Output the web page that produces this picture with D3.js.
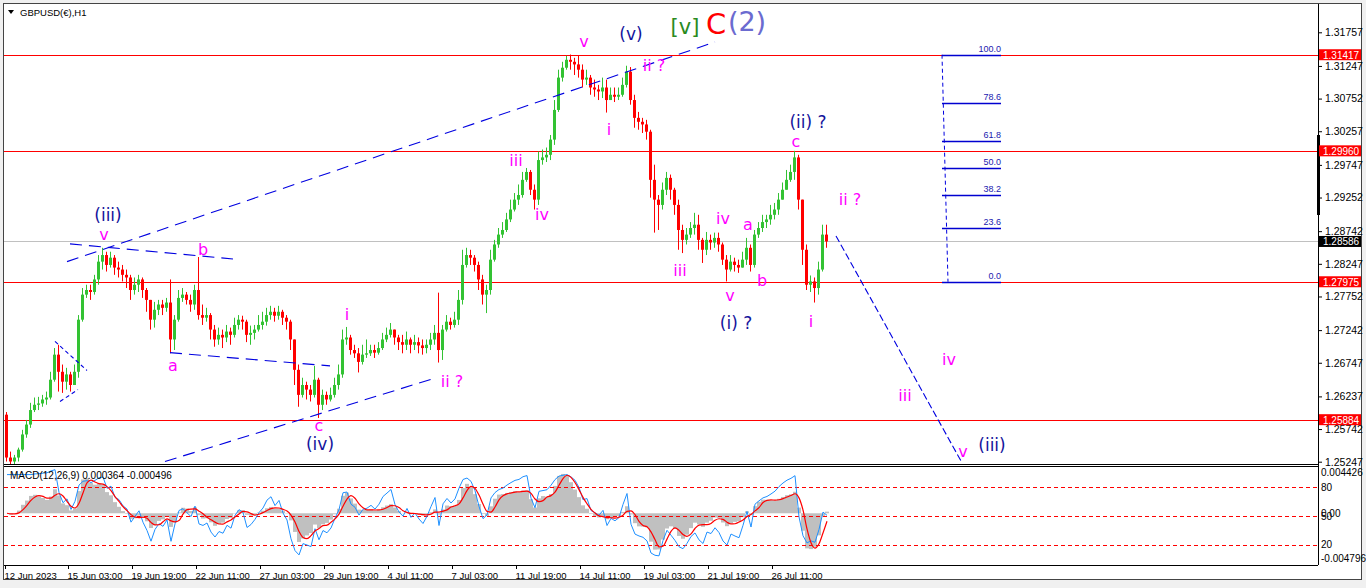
<!DOCTYPE html>
<html>
<head>
<meta charset="utf-8">
<script src="https://cdn.jsdelivr.net/npm/d3@7"></script>
<style>
html, body { margin: 0; padding: 0; background: #f0f0f0; }
svg { display: block; font-family: "Liberation Sans", Arial, sans-serif; }
</style>
</head>
<body>
<svg id="chart" width="1366" height="588"></svg>
<script>
// ---- data: GBPUSD H1, resampled to 4-hour candles (open = previous close) ----
var startHour = 12;        // trading hours counted from 12 Jun 2023 00:00
var barHours = 4;
var firstOpen = 1.2596;

var highs = [
	1.2600, 1.2540, 1.2535, 1.2546, 1.2573, 1.2588, 1.2614, 1.2622, 1.2623, 1.2626,
	1.2631, 1.2661, 1.2697, 1.2702, 1.2672, 1.2667, 1.2661, 1.2672, 1.2747, 1.2788,
	1.2793, 1.2793, 1.2808, 1.2838, 1.2849, 1.2843, 1.2843, 1.2838, 1.2828, 1.2823,
	1.2816, 1.2808, 1.2804, 1.2808, 1.2804, 1.2788, 1.2770, 1.2767, 1.2770, 1.2770,
	1.2773, 1.2801, 1.2747, 1.2785, 1.2788, 1.2782, 1.2778, 1.2793, 1.2835, 1.2763,
	1.2758, 1.2750, 1.2732, 1.2728, 1.2725, 1.2732, 1.2728, 1.2743, 1.2747, 1.2746,
	1.2740, 1.2731, 1.2732, 1.2747, 1.2752, 1.2758, 1.2761, 1.2758, 1.2761, 1.2755,
	1.2747, 1.2740, 1.2710, 1.2672, 1.2652, 1.2646, 1.2641, 1.2670, 1.2652, 1.2634,
	1.2631, 1.2637, 1.2652, 1.2672, 1.2725, 1.2729, 1.2717, 1.2702, 1.2697, 1.2702,
	1.2710, 1.2702, 1.2702, 1.2706, 1.2720, 1.2728, 1.2735, 1.2725, 1.2717, 1.2717,
	1.2722, 1.2713, 1.2717, 1.2713, 1.2710, 1.2710, 1.2720, 1.2732, 1.2781, 1.2732,
	1.2747, 1.2743, 1.2752, 1.2785, 1.2846, 1.2849, 1.2846, 1.2838, 1.2828, 1.2808,
	1.2793, 1.2846, 1.2861, 1.2879, 1.2888, 1.2902, 1.2922, 1.2932, 1.2945, 1.2964,
	1.2970, 1.2967, 1.2945, 1.2995, 1.2998, 1.3001, 1.3020, 1.3073, 1.3119, 1.3131,
	1.3140, 1.3142, 1.3137, 1.3141, 1.3127, 1.3119, 1.3111, 1.3104, 1.3096, 1.3107,
	1.3104, 1.3092, 1.3092, 1.3092, 1.3107, 1.3125, 1.3123, 1.3081, 1.3055, 1.3046,
	1.3043, 1.3028, 1.2975, 1.2929, 1.2948, 1.2964, 1.2960, 1.2940, 1.2922, 1.2884,
	1.2879, 1.2888, 1.2902, 1.2899, 1.2864, 1.2873, 1.2869, 1.2872, 1.2872, 1.2857,
	1.2838, 1.2838, 1.2834, 1.2831, 1.2843, 1.2864, 1.2854, 1.2876, 1.2888, 1.2899,
	1.2899, 1.2914, 1.2917, 1.2932, 1.2948, 1.2967, 1.2975, 1.2996, 1.2990, 1.2922,
	1.2854, 1.2807, 1.2804, 1.2828, 1.2884, 1.2884
];

var lows = [
	1.2525, 1.2515, 1.2515, 1.2525, 1.2540, 1.2561, 1.2576, 1.2600, 1.2603, 1.2608,
	1.2611, 1.2619, 1.2646, 1.2631, 1.2629, 1.2634, 1.2631, 1.2641, 1.2652, 1.2737,
	1.2773, 1.2770, 1.2778, 1.2793, 1.2816, 1.2813, 1.2819, 1.2808, 1.2804, 1.2798,
	1.2788, 1.2770, 1.2778, 1.2782, 1.2773, 1.2752, 1.2725, 1.2728, 1.2747, 1.2747,
	1.2752, 1.2689, 1.2694, 1.2737, 1.2767, 1.2763, 1.2752, 1.2755, 1.2740, 1.2732,
	1.2737, 1.2710, 1.2699, 1.2702, 1.2697, 1.2706, 1.2702, 1.2713, 1.2725, 1.2725,
	1.2706, 1.2702, 1.2710, 1.2722, 1.2725, 1.2731, 1.2740, 1.2737, 1.2740, 1.2732,
	1.2725, 1.2694, 1.2641, 1.2608, 1.2622, 1.2619, 1.2616, 1.2622, 1.2591, 1.2603,
	1.2611, 1.2616, 1.2622, 1.2634, 1.2652, 1.2702, 1.2687, 1.2682, 1.2660, 1.2672,
	1.2682, 1.2685, 1.2682, 1.2687, 1.2694, 1.2706, 1.2713, 1.2702, 1.2694, 1.2689,
	1.2694, 1.2689, 1.2694, 1.2689, 1.2687, 1.2689, 1.2694, 1.2702, 1.2675, 1.2679,
	1.2722, 1.2725, 1.2728, 1.2732, 1.2763, 1.2819, 1.2823, 1.2813, 1.2785, 1.2763,
	1.2750, 1.2778, 1.2828, 1.2849, 1.2864, 1.2873, 1.2888, 1.2904, 1.2914, 1.2925,
	1.2949, 1.2929, 1.2907, 1.2914, 1.2975, 1.2979, 1.2982, 1.3005, 1.3055, 1.3101,
	1.3119, 1.3119, 1.3111, 1.3107, 1.3092, 1.3096, 1.3081, 1.3078, 1.3073, 1.3076,
	1.3054, 1.3073, 1.3070, 1.3073, 1.3078, 1.3092, 1.3066, 1.3031, 1.3028, 1.3023,
	1.3013, 1.2925, 1.2872, 1.2876, 1.2907, 1.2929, 1.2922, 1.2899, 1.2846, 1.2841,
	1.2854, 1.2864, 1.2869, 1.2846, 1.2826, 1.2838, 1.2846, 1.2849, 1.2843, 1.2823,
	1.2798, 1.2813, 1.2813, 1.2811, 1.2819, 1.2823, 1.2813, 1.2819, 1.2864, 1.2873,
	1.2879, 1.2884, 1.2892, 1.2899, 1.2922, 1.2937, 1.2949, 1.2952, 1.2907, 1.2823,
	1.2785, 1.2782, 1.2766, 1.2778, 1.2813, 1.2849
];

var closes = [
	1.2531, 1.2525, 1.2531, 1.2543, 1.2566, 1.2581, 1.2603, 1.2611, 1.2613, 1.2619,
	1.2622, 1.2649, 1.2687, 1.2661, 1.2646, 1.2657, 1.2641, 1.2661, 1.2740, 1.2778,
	1.2785, 1.2782, 1.2801, 1.2828, 1.2838, 1.2823, 1.2834, 1.2819, 1.2816, 1.2808,
	1.2804, 1.2785, 1.2793, 1.2801, 1.2785, 1.2770, 1.2740, 1.2755, 1.2763, 1.2758,
	1.2766, 1.2710, 1.2740, 1.2773, 1.2778, 1.2770, 1.2763, 1.2785, 1.2747, 1.2743,
	1.2747, 1.2725, 1.2710, 1.2717, 1.2713, 1.2722, 1.2717, 1.2732, 1.2740, 1.2737,
	1.2717, 1.2720, 1.2725, 1.2732, 1.2737, 1.2747, 1.2752, 1.2746, 1.2752, 1.2743,
	1.2737, 1.2710, 1.2664, 1.2626, 1.2641, 1.2634, 1.2626, 1.2649, 1.2611, 1.2626,
	1.2619, 1.2626, 1.2641, 1.2657, 1.2710, 1.2713, 1.2694, 1.2689, 1.2676, 1.2687,
	1.2689, 1.2694, 1.2690, 1.2697, 1.2710, 1.2717, 1.2725, 1.2713, 1.2706, 1.2702,
	1.2710, 1.2702, 1.2706, 1.2701, 1.2697, 1.2702, 1.2710, 1.2720, 1.2694, 1.2725,
	1.2737, 1.2732, 1.2740, 1.2770, 1.2823, 1.2838, 1.2834, 1.2823, 1.2801, 1.2778,
	1.2785, 1.2831, 1.2854, 1.2869, 1.2876, 1.2892, 1.2907, 1.2922, 1.2929, 1.2952,
	1.2964, 1.2937, 1.2922, 1.2982, 1.2986, 1.2990, 1.3013, 1.3058, 1.3107, 1.3122,
	1.3134, 1.3131, 1.3127, 1.3119, 1.3104, 1.3107, 1.3092, 1.3089, 1.3086, 1.3092,
	1.3073, 1.3081, 1.3078, 1.3081, 1.3096, 1.3116, 1.3073, 1.3046, 1.3040, 1.3036,
	1.3025, 1.2952, 1.2922, 1.2914, 1.2937, 1.2955, 1.2937, 1.2914, 1.2876, 1.2861,
	1.2869, 1.2879, 1.2884, 1.2861, 1.2846, 1.2861, 1.2857, 1.2864, 1.2854, 1.2831,
	1.2816, 1.2828, 1.2823, 1.2819, 1.2831, 1.2849, 1.2823, 1.2869, 1.2879, 1.2888,
	1.2892, 1.2899, 1.2907, 1.2922, 1.2937, 1.2952, 1.2964, 1.2986, 1.2922, 1.2846,
	1.2793, 1.2798, 1.2788, 1.2816, 1.2869, 1.28586
];

var priceTicks = [1.31757, 1.31247, 1.30752, 1.30257, 1.29747, 1.29252, 1.28742,
	1.28247, 1.27752, 1.27242, 1.26747, 1.26237, 1.25742, 1.25247];
var levelPrices = [1.31417, 1.29960, 1.27975, 1.25884];
var lastPrice = 1.28586;
var timeTicks = [12, 75, 139, 203, 267, 331, 395, 459, 523, 587, 651, 715, 779];
var timeLabels = ["12 Jun 2023", "15 Jun 03:00", "19 Jun 19:00", "22 Jun 11:00", "27 Jun 03:00",
	"29 Jun 19:00", "4 Jul 11:00", "7 Jul 03:00", "11 Jul 19:00", "14 Jul 11:00",
	"19 Jul 03:00", "21 Jul 19:00", "26 Jul 11:00"];

// fibonacci retracement between the top and the (i) low
var fibLevels = [0, 23.6, 38.2, 50.0, 61.8, 78.6, 100.0];
var fibHigh = { t: 949, p: 1.31417 };
var fibLow = { t: 955, p: 1.27975 };
var fibEnd = 1008;

// trend lines [t1, p1, t2, p2, kind]
var trendLines = [
	[74, 1.2828, 722, 1.3161, "long"],
	[172, 1.2525, 439, 1.2650, "long"],
	[77, 1.2855, 240, 1.2832, "long"],
	[177, 1.2690, 337, 1.2670, "long"],
	[62, 1.2707, 94, 1.2663, "short"],
	[67, 1.2616, 85, 1.2634, "short"],
	[843, 1.2867, 969, 1.2523, "proj"]
];

// wave labels [t, price, text, style]
var waveLabels = [
	[115, 1.2898, "(iii)", "blue"], [111, 1.2869, "v", "pink"], [210, 1.2846, "b", "pink"],
	[180, 1.2670, "a", "pink"], [326, 1.2579, "c", "pink"], [327, 1.2552, "(iv)", "blue"],
	[354, 1.2748, "i", "pink"], [459, 1.2647, "ii ?", "pink"], [523, 1.2982, "iii", "pink"],
	[549, 1.2899, "iv", "pink"], [591, 1.3161, "v", "pink"], [638, 1.3173, "(v)", "blue"],
	[616, 1.3029, "i", "pink"], [661, 1.3125, "ii ?", "pink"], [692, 1.3184, "[v]", "green"],
	[723, 1.3189, "C", "red"], [754, 1.3192, "(2)", "slate"], [815, 1.3039, "(ii) ?", "blue"],
	[803, 1.3010, "c", "pink"], [730, 1.2893, "iv", "pink"], [755, 1.2885, "a", "pink"],
	[687, 1.2814, "iii", "pink"], [769, 1.2799, "b", "pink"], [737, 1.2776, "v", "pink"],
	[743, 1.2735, "(i) ?", "blue"], [818, 1.2737, "i", "pink"], [857, 1.2922, "ii ?", "pink"],
	[956, 1.2679, "iv", "pink"], [912, 1.2625, "iii", "pink"], [970, 1.2540, "v", "pink"],
	[999, 1.2550, "(iii)", "blue"]
];

// indicator settings: MACD(12,26,9) on H1 expressed in 4-hour bars
var macdFast = 3, macdSlow = 6.5, macdSignal = 3, oscPeriod = 6;
var macdTicks = [0.004426, 0, -0.004796];
var oscLevels = [80, 50, 20];

// ---- layout ----
var plotL = 4, plotR = 1318, mainT = 4, mainB = 464, subT = 467, subB = 565;
var labelStyle = {
	pink: { fill: "#ff00ff", size: 16 },
	blue: { fill: "#14149c", size: 17 },
	green: { fill: "#2a8a1e", size: 21 },
	red: { fill: "#ff0000", size: 29 },
	slate: { fill: "#6b6bd0", size: 27 }
};

var svg = d3.select("#chart");
var x = d3.scaleLinear().domain([12, 1325]).range([5, 1318]);
var y = d3.scaleLinear().domain([1.25247, 1.31757]).range([461.7, 32.3]);
var yM = d3.scaleLinear().domain([-0.004796, 0.004426]).range([558, 472]);
var yO = d3.scaleLinear().domain([0, 100]).range([564.3, 467.7]);

svg.append("rect").attr("x", 3.5).attr("y", 3.5).attr("width", 1358).attr("height", 576)
	.attr("fill", "#fff").attr("stroke", "#444");

var defs = svg.append("defs");
defs.append("clipPath").attr("id", "clipMain").append("rect")
	.attr("x", plotL).attr("y", mainT).attr("width", plotR - plotL).attr("height", mainB - mainT);
defs.append("clipPath").attr("id", "clipSub").append("rect")
	.attr("x", plotL).attr("y", subT).attr("width", plotR - plotL).attr("height", subB - subT);

var main = svg.append("g").attr("clip-path", "url(#clipMain)");
var sub = svg.append("g").attr("clip-path", "url(#clipSub)");

// horizontal levels
main.append("line").attr("x1", plotL).attr("x2", plotR)
	.attr("y1", Math.round(y(lastPrice)) + 0.5).attr("y2", Math.round(y(lastPrice)) + 0.5)
	.attr("stroke", "#c0c0c0");
main.selectAll(".lvl").data(levelPrices).enter().append("line")
	.attr("x1", plotL).attr("x2", plotR)
	.attr("y1", d => Math.round(y(d)) + 0.5).attr("y2", d => Math.round(y(d)) + 0.5)
	.attr("stroke", "#ff0000").attr("stroke-width", 1.2);

// candles
var candles = closes.map(function (c, i) {
	var o = i ? closes[i - 1] : firstOpen;
	return { t: startHour + i * barHours, o: o, c: c,
		h: Math.max(highs[i], o, c), l: Math.min(lows[i], o, c) };
});
var cg = main.append("g");
candles.forEach(function (d) {
	var col = d.c >= d.o ? "#33c233" : "#ff0000";
	var cx = Math.round(x(d.t)) + 1.5;
	cg.append("line").attr("x1", cx).attr("x2", cx).attr("y1", y(d.h)).attr("y2", y(d.l))
		.attr("stroke", col).attr("stroke-width", 1);
	var top = y(Math.max(d.o, d.c)), bot = y(Math.min(d.o, d.c));
	cg.append("rect").attr("x", Math.round(x(d.t))).attr("width", 3)
		.attr("y", top).attr("height", Math.max(1, bot - top)).attr("fill", col);
});

// trend lines
var dashes = { long: "12,7", short: "4,3", proj: "7,3" };
main.selectAll(".tl").data(trendLines).enter().append("line")
	.attr("x1", d => x(d[0])).attr("y1", d => y(d[1]))
	.attr("x2", d => x(d[2])).attr("y2", d => y(d[3]))
	.attr("stroke", "#0000e0").attr("stroke-width", 1.1)
	.attr("stroke-dasharray", d => dashes[d[4]]);

// fibonacci
main.append("line").attr("x1", x(fibHigh.t)).attr("y1", y(fibHigh.p))
	.attr("x2", x(fibLow.t)).attr("y2", y(fibLow.p))
	.attr("stroke", "#0000e0").attr("stroke-dasharray", "4,3");
var fibG = main.selectAll(".fib").data(fibLevels).enter().append("g");
fibG.append("line")
	.attr("x1", x(fibHigh.t)).attr("x2", x(fibEnd))
	.attr("y1", d => Math.round(y(fibLow.p + (fibHigh.p - fibLow.p) * d / 100)) + 0.5)
	.attr("y2", d => Math.round(y(fibLow.p + (fibHigh.p - fibLow.p) * d / 100)) + 0.5)
	.attr("stroke", "#0000d0").attr("stroke-width", 1.3);
fibG.append("text")
	.attr("x", x(fibEnd)).attr("y", d => y(fibLow.p + (fibHigh.p - fibLow.p) * d / 100) - 3)
	.attr("text-anchor", "end").attr("font-size", 9).attr("fill", "#1a1ab0")
	.text(d => d.toFixed(1));

// wave labels
main.selectAll(".wl").data(waveLabels).enter().append("text")
	.attr("x", d => x(d[0])).attr("y", d => y(d[1]))
	.attr("text-anchor", "middle").attr("dominant-baseline", "central")
	.attr("font-family", "'DejaVu Sans', sans-serif")
	.attr("font-size", d => labelStyle[d[3]].size)
	.attr("fill", d => labelStyle[d[3]].fill)
	.text(d => d[2]);

// ---- MACD panel ----
function ema(arr, n) {
	var a = 2 / (n + 1), out = [], prev = arr[0];
	arr.forEach(function (v, i) { prev = i ? prev + a * (v - prev) : v; out.push(prev); });
	return out;
}
var fast = ema(closes, macdFast), slow = ema(closes, macdSlow);
var macd = fast.map((v, i) => v - slow[i]);
var signal = macd.map((v, i) => d3.mean(macd.slice(Math.max(0, i - macdSignal + 1), i + 1)));
var osc = [];
(function () {
	var g = 0, l = 0;
	for (var i = 1; i <= oscPeriod; i++) {
		var d = closes[i] - closes[i - 1];
		g += Math.max(d, 0) / oscPeriod; l += Math.max(-d, 0) / oscPeriod;
	}
	closes.forEach(function (c, i) {
		if (i > oscPeriod) {
			var d = c - closes[i - 1];
			g = (g * (oscPeriod - 1) + Math.max(d, 0)) / oscPeriod;
			l = (l * (oscPeriod - 1) + Math.max(-d, 0)) / oscPeriod;
		}
		osc.push(l === 0 ? 100 : 100 - 100 / (1 + g / l));
	});
})();

sub.selectAll(".hist").data(macd).enter().append("rect")
	.attr("x", (d, i) => Math.round(x(candles[i].t)))
	.attr("width", 4)
	.attr("y", d => Math.min(yM(d), yM(0)))
	.attr("height", d => Math.abs(yM(d) - yM(0)))
	.attr("fill", "#c0c0c0");
sub.selectAll(".olv").data(oscLevels).enter().append("line")
	.attr("x1", plotL).attr("x2", plotR)
	.attr("y1", d => Math.round(yO(d)) + 0.5).attr("y2", d => Math.round(yO(d)) + 0.5)
	.attr("stroke", "#ff0000").attr("stroke-dasharray", "4,3");
sub.append("path").datum(osc)
	.attr("d", d3.line().x((d, i) => x(candles[i].t) + 2).y(d => yO(d)))
	.attr("fill", "none").attr("stroke", "#1e90ff").attr("stroke-width", 1);
sub.append("path").datum(signal)
	.attr("d", d3.line().curve(d3.curveMonotoneX).x((d, i) => x(candles[i].t) + 2).y(d => yM(d)))
	.attr("fill", "none").attr("stroke", "#ff0000").attr("stroke-width", 1.2);

svg.append("text").attr("x", 10).attr("y", 479).attr("font-size", 10).attr("fill", "#000")
	.text("MACD(12,26,9) 0.000364 -0.000496");

// ---- frames ----
var frame = svg.append("g").attr("stroke", "#000").attr("fill", "none");
frame.append("line").attr("x1", plotR + 0.5).attr("x2", plotR + 0.5).attr("y1", mainT).attr("y2", subB);
frame.append("line").attr("x1", plotL).attr("x2", plotR).attr("y1", mainB + 0.5).attr("y2", mainB + 0.5);
frame.append("line").attr("x1", plotL).attr("x2", plotR).attr("y1", subT - 0.5).attr("y2", subT - 0.5);
frame.append("line").attr("x1", plotL).attr("x2", plotR).attr("y1", subB + 0.5).attr("y2", subB + 0.5);
svg.append("line").attr("x1", plotR + 0.5).attr("x2", plotR + 0.5)
	.attr("y1", 135).attr("y2", 215).attr("stroke", "#000").attr("stroke-width", 3);

// title
svg.append("path").attr("d", "M8,10 L14,10 L11,14 Z").attr("fill", "#000");
svg.append("text").attr("x", 20).attr("y", 16).attr("font-size", 9.5).text("GBPUSD(€),H1");

// price axis
var yAxis = svg.append("g").attr("transform", "translate(" + plotR + ",0)")
	.call(d3.axisRight(y).tickValues(priceTicks).tickFormat(d3.format(".5f")).tickSize(4));
yAxis.select(".domain").remove();
yAxis.selectAll("text").attr("font-family", "'Liberation Sans', Arial, sans-serif")
	.attr("font-size", 10.5).attr("fill", "#000");

function priceTag(p, bg) {
	var g = svg.append("g").attr("transform", "translate(" + (plotR + 1) + "," + y(p) + ")");
	g.append("rect").attr("x", 0).attr("y", -5.5).attr("width", 42).attr("height", 11).attr("fill", bg);
	g.append("text").attr("x", 4).attr("y", 0.5).attr("dominant-baseline", "central")
		.attr("font-size", 10).attr("fill", "#fff").text(p.toFixed(5));
}
levelPrices.forEach(p => priceTag(p, "#ff0000"));
priceTag(lastPrice, "#000");

// MACD axis labels
var mAxis = svg.append("g").attr("font-size", 10).attr("fill", "#000");
mAxis.selectAll(".mt").data(macdTicks).enter().append("text")
	.attr("x", plotR + 3).attr("y", d => yM(d)).attr("dominant-baseline", "central")
	.text(d => d === 0 ? "0.00" : d.toFixed(6));
mAxis.selectAll(".ot").data(oscLevels).enter().append("text")
	.attr("x", plotR + 3).attr("y", d => yO(d)).attr("dominant-baseline", "central")
	.text(d => d);

// time axis
var xAxis = svg.append("g").attr("transform", "translate(0," + (subB + 1) + ")")
	.call(d3.axisBottom(x).tickValues(timeTicks).tickFormat((d, i) => timeLabels[i]).tickSize(3));
xAxis.select(".domain").remove();
xAxis.selectAll("text").attr("text-anchor", "start").attr("dx", "-1")
	.attr("font-family", "'Liberation Sans', Arial, sans-serif").attr("font-size", 9.5).attr("fill", "#000");
</script>
</body>
</html>
